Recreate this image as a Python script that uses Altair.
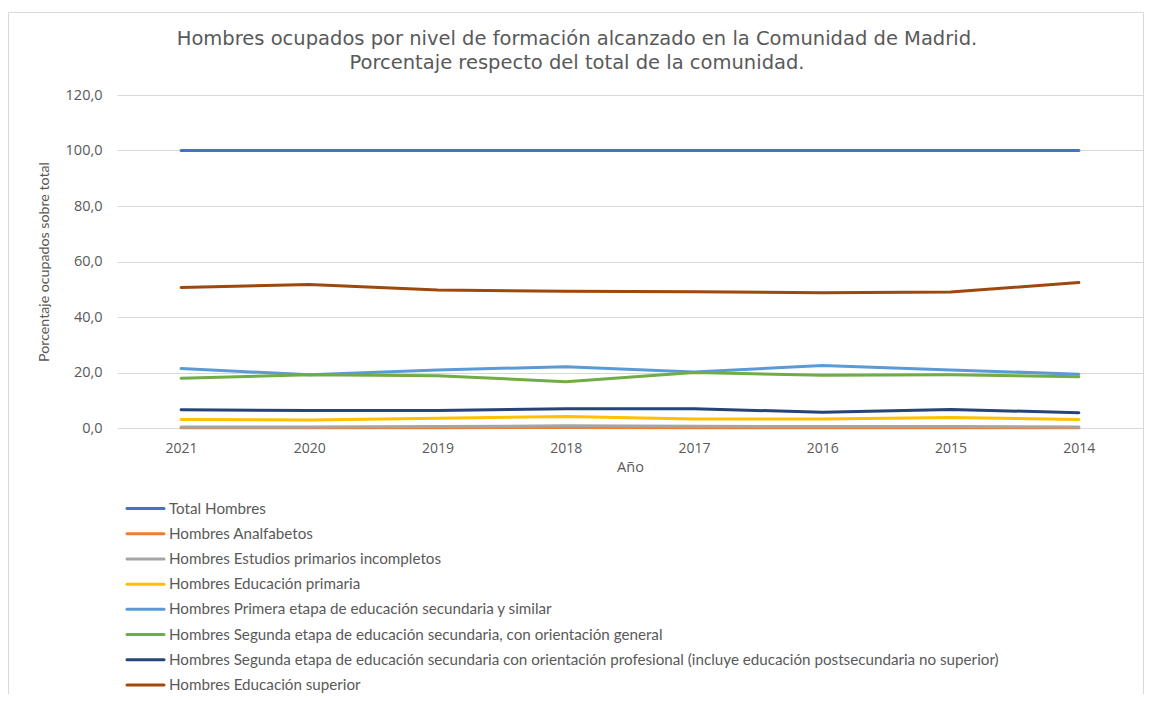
import altair as alt
import pandas as pd

years = ["2021", "2020", "2019", "2018", "2017", "2016", "2015", "2014"]

series = [
    "Total Hombres",
    "Hombres Analfabetos",
    "Hombres Estudios primarios incompletos",
    "Hombres Educación primaria",
    "Hombres Primera etapa de educación secundaria y similar",
    "Hombres Segunda etapa de educación secundaria, con orientación general",
    "Hombres Segunda etapa de educación secundaria con orientación profesional (incluye educación postsecundaria no superior)",
    "Hombres Educación superior",
]
colors = ["#4472C4", "#ED7D31", "#A5A5A5", "#FFC000", "#5B9BD5", "#70AD47", "#264478", "#9E480E"]

total = [100.0, 100.0, 100.0, 100.0, 100.0, 100.0, 100.0, 100.0]
analfabetos = [0.1, 0.1, 0.1, 0.2, 0.1, 0.1, 0.1, 0.1]
prim_incompletos = [0.4, 0.4, 0.5, 0.8, 0.6, 0.5, 0.5, 0.4]
primaria = [3.1, 2.9, 3.5, 4.1, 3.2, 3.2, 3.8, 3.1]
primera_etapa = [21.4, 19.2, 20.9, 22.1, 20.2, 22.5, 20.9, 19.4]
segunda_general = [17.9, 19.2, 18.8, 16.7, 20.0, 19.0, 19.2, 18.5]
segunda_profesional = [6.6, 6.3, 6.3, 6.9, 6.9, 5.7, 6.7, 5.5]
superior = [50.6, 51.7, 49.7, 49.3, 49.1, 48.7, 49.0, 52.4]

title_lines = [
    "Hombres ocupados por nivel de formación alcanzado en la Comunidad de Madrid.",
    "Porcentaje respecto del total de la comunidad.",
]
y_title = "Porcentaje ocupados sobre total"
x_title = "Año"

all_values = [total, analfabetos, prim_incompletos, primaria, primera_etapa,
              segunda_general, segunda_profesional, superior]

rows = []
for s, vals in zip(series, all_values):
    for yr, v in zip(years, vals):
        rows.append({"serie": s, "anio": yr, "valor": v})
df = pd.DataFrame(rows)

legend_df = pd.DataFrame({"serie": series, "idx": list(range(len(series)))})

W, H = 1026, 333
GRAY = "#595959"

color_scale = alt.Scale(domain=series, range=colors)

lines = alt.Chart(df).mark_line(strokeWidth=3, strokeCap="round", strokeJoin="round").encode(
    x=alt.X("anio:N", sort=years, title=x_title,
            scale=alt.Scale(type="point", padding=0.5),
            axis=alt.Axis(labelAngle=0, labelFont="Open Sans", labelFontSize=14,
                          labelColor=GRAY, labelPadding=13, ticks=False, domain=False,
                          grid=False, titleFont="Open Sans", titleFontSize=14.5,
                          titleFontWeight="normal", titleColor=GRAY, titlePadding=5)),
    y=alt.Y("valor:Q", title=y_title,
            scale=alt.Scale(domain=[0, 120], nice=False, zero=True),
            axis=alt.Axis(values=[0, 20, 40, 60, 80, 100, 120], format=".1f",
                          labelExpr="replace(format(datum.value, '.1f'), '.', ',')",
                          labelFont="Open Sans", labelFontSize=14.5, labelColor=GRAY,
                          labelPadding=15, ticks=False, domain=False,
                          grid=True, gridColor="#D9D9D9", gridWidth=1,
                          titleFont="Lato", titleFontSize=14.2, titleFontWeight="normal",
                          titleColor=GRAY, titleAngle=-90, titleX=-73, titleY=H / 2,
                          titleAlign="center", titleBaseline="middle")),
    color=alt.Color("serie:N", scale=color_scale, legend=None),
    detail="serie:N",
)

leg_y = alt.Y("idx:Q", scale=alt.Scale(domain=[0, 7], range=[413.5, 590]), axis=None)

legend_lines = alt.Chart(legend_df).mark_rule(strokeWidth=3, strokeCap="round").encode(
    x=alt.value(10), x2=alt.value(47), y=leg_y,
    color=alt.Color("serie:N", scale=color_scale, legend=None),
)
legend_text = alt.Chart(legend_df).mark_text(
    align="left", baseline="middle", font="Lato", fontSize=15.2, color=GRAY
).encode(x=alt.value(52), y=leg_y, text="serie:N")

title_df = pd.DataFrame({"t": ["\n".join(title_lines)]})
title_text = alt.Chart(title_df).mark_text(
    align="center", baseline="alphabetic", font="DejaVu Sans", fontSize=19.5, color=GRAY,
    lineBreak="\n", lineHeight=24
).encode(
    x=alt.value(460),
    y=alt.value(-50),
    text="t:N",
)

frame = alt.Chart(pd.DataFrame({"a": [0]})).mark_rect(
    fill=None, stroke="#D9D9D9", strokeWidth=1
).encode(x=alt.value(-108.5), x2=alt.value(W + 0.5), y=alt.value(-82.5), y2=alt.value(700))

chart = alt.layer(frame, lines, legend_lines, legend_text, title_text).resolve_scale(
    y="independent"
).properties(
    width=W, height=H,
    autosize=alt.AutoSizeParams(type="none"),
    padding={"left": 109, "top": 87, "right": 1, "bottom": 266},
    background="white",
).configure_view(stroke=None)

chart.save("out.html", embed_options={"renderer": "svg", "actions": False})
